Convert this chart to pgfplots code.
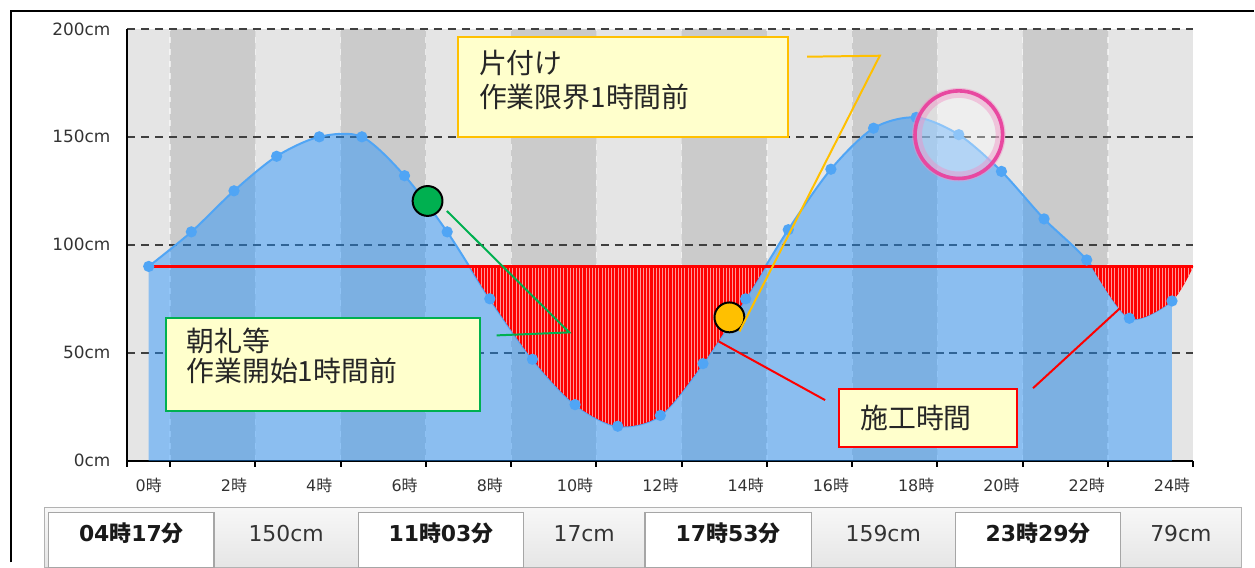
\documentclass[border=0pt]{standalone}
\usepackage{fontspec}
\setmainfont{DejaVu Sans}
\newfontfamily\jp{Noto Sans CJK JP}
\usepackage{pgfplots}
\pgfplotsset{compat=1.18}
\usepackage{pgfplotstable}
\usetikzlibrary{patterns.meta}

\definecolor{bglight}{RGB}{229,229,229}
\definecolor{bgdark}{RGB}{203,203,203}
\definecolor{tideblue}{RGB}{30,144,255}
\definecolor{lineblue}{RGB}{80,165,245}
\definecolor{boxyellow}{RGB}{255,255,204}
\definecolor{xlgreen}{RGB}{0,176,80}
\definecolor{xlorange}{RGB}{255,192,0}
\definecolor{pinkring}{RGB}{232,72,160}
\definecolor{gridgrey}{RGB}{64,64,64}
\definecolor{txtgrey}{RGB}{51,51,51}
\definecolor{hatch}{RGB}{255,150,150}

\pgfplotstableread{
h v
0 90
1 106
2 125
3 141
4 150
5 150
6 132
7 106
8 75
9 47
10 26
11 16
12 21
13 45
14 75
15 107
16 135
17 154
18 159
19 151
20 134
21 112
22 93
23 66
24 74
}\tide

% part of the tide below the 90 cm limit (working time)
\pgfplotstableread{
h v
7.53 90
8 75
9 47
10 26
11 16
12 21
13 45
14 75
14.47 90
}\workA

\pgfplotstableread{
h v
22.11 90
23 66
24 74
24.5 90
}\workB

\tikzset{redzone/.style={draw=none, fill=red, postaction={pattern={Lines[angle=90,distance=1.6pt,line width=0.35pt]}, pattern color=hatch}}}

\begin{document}
\begin{tikzpicture}
\begin{scope}[shift={(-64pt,231.5pt)},x=0.5pt,y=-0.5pt]
\useasboundingbox (0,0) rectangle (1255,560);
\end{scope}
\begin{axis}[
  at={(0,0)}, anchor=south west,
  scale only axis, width=535.5pt, height=217pt,
  xmin=-0.5, xmax=24.5, ymin=0, ymax=200,
  set layers,
  axis lines*=left,
  axis line style={line width=1pt, black},
  axis background/.style={fill=bglight},
  xtick={0,2,4,6,8,10,12,14,16,18,20,22,24},
  xticklabels={0{\jp 時},2{\jp 時},4{\jp 時},6{\jp 時},8{\jp 時},10{\jp 時},12{\jp 時},14{\jp 時},16{\jp 時},18{\jp 時},20{\jp 時},22{\jp 時},24{\jp 時}},
  minor xtick={-0.5,0.5,2.5,4.5,6.5,8.5,10.5,12.5,14.5,16.5,18.5,20.5,22.5,24.5},
  ytick={0,50,100,150,200},
  yticklabels={0cm,50cm,100cm,150cm,200cm},
  tick align=outside,
  major tick length=0pt,
  minor tick length=3pt,
  every tick/.style={black, line width=1pt},
  xminorgrids,
  minor x grid style={white, dashed, line width=0.6pt, opacity=0.6},
  ymajorgrids,
  y grid style={gridgrey, dash pattern=on 4pt off 3pt, line width=0.8pt},
  xticklabel style={font=\fontsize{8}{9}\selectfont, text=txtgrey, yshift=-5pt},
  yticklabel style={font=\fontsize{8.5}{10}\selectfont, text=txtgrey, xshift=-5pt},
]
\addplot[on layer=axis background, ybar interval, fill=bgdark, draw=none]
  coordinates {(0.5,200) (2.5,0) (4.5,200) (6.5,0) (8.5,200) (10.5,0) (12.5,200) (14.5,0) (16.5,200) (18.5,0) (20.5,200) (22.5,0)};

\addplot[draw=none, fill=tideblue, fill opacity=0.45, smooth] table[x=h,y=v]{\tide} \closedcycle;
\addplot[lineblue, line width=1pt, smooth, mark=*, mark size=2.3pt, mark options={fill=lineblue, draw=none}] table[x=h,y=v]{\tide};

\addplot[redzone, smooth] table[x=h,y=v]{\workA} -- cycle;
\addplot[redzone, smooth] table[x=h,y=v]{\workB} -- cycle;
\addplot[red, line width=1.6pt] coordinates {(0,90) (24.5,90)};

\addplot[only marks, mark=*, mark size=7.5pt, mark options={fill=xlgreen, draw=black, line width=1pt}] coordinates {(6.54,120.3)};
\addplot[only marks, mark=*, mark size=7.5pt, mark options={fill=xlorange, draw=black, line width=1pt}] coordinates {(13.62,66.4)};
\addplot[only marks, mark=*, mark size=21pt, mark options={draw=pinkring!60, line width=5pt, draw opacity=0.45, fill=white, fill opacity=0.35}] coordinates {(19.0,151)};
\addplot[only marks, mark=o, mark size=22pt, mark options={draw=pinkring, line width=1.8pt}] coordinates {(19.0,151)};
\end{axis}

\begin{scope}[shift={(-64pt,231.5pt)},x=0.5pt,y=-0.5pt]
\draw[line width=1pt] (11,565) -- (11,11) -- (1260,11);
% callout lines
\draw[xlgreen, line width=1pt] (449,212) -- (572,334) -- (499,337);
\draw[xlorange, line width=1pt] (743,333) -- (884,56) -- (811,57);
\draw[red, line width=1pt] (722,343) -- (829,402);
\draw[red, line width=1pt] (1038,390) -- (1125,310);
% boxes
\draw[xlorange, line width=1pt, fill=boxyellow] (460,37) rectangle (792,138);
\node[anchor=west, inner sep=0, font=\jp\fontsize{14}{17}\selectfont, text=black!85] at (481,63) {片付け};
\node[anchor=west, inner sep=0, font=\jp\fontsize{14}{17}\selectfont, text=black!85] at (481,97) {作業限界1時間前};
\draw[xlgreen, line width=1pt, fill=boxyellow] (167,320) rectangle (482,413);
\node[anchor=west, inner sep=0, font=\jp\fontsize{14}{17}\selectfont, text=black!85] at (187,343) {朝礼等};
\node[anchor=west, inner sep=0, font=\jp\fontsize{14}{17}\selectfont, text=black!85] at (187,373) {作業開始1時間前};
\draw[red, line width=1pt, fill=boxyellow] (843,391) rectangle (1022,449);
\node[anchor=west, inner sep=0, font=\jp\fontsize{14}{17}\selectfont, text=black!85] at (864,420) {施工時間};
% table
\shade[top color=gray!6, bottom color=gray!20, draw=gray!60, line width=0.5pt] (45,510) rectangle (1247,570);
\foreach \a/\b in {49/215, 360/526, 648/815, 960/1126}
  \draw[gray!70, line width=0.6pt, fill=white] (\a,515) rectangle (\b,570);
\node[font=\fontsize{11}{13}\selectfont\bfseries, text=black!90] at (132,536) {04{\jp\bfseries 時}17{\jp\bfseries 分}};
\node[font=\fontsize{11}{13}\selectfont\bfseries, text=black!90] at (443,536) {11{\jp\bfseries 時}03{\jp\bfseries 分}};
\node[font=\fontsize{11}{13}\selectfont\bfseries, text=black!90] at (731.5,536) {17{\jp\bfseries 時}53{\jp\bfseries 分}};
\node[font=\fontsize{11}{13}\selectfont\bfseries, text=black!90] at (1043,536) {23{\jp\bfseries 時}29{\jp\bfseries 分}};
\node[font=\fontsize{11}{13}\selectfont, text=txtgrey] at (287.5,536) {150cm};
\node[font=\fontsize{11}{13}\selectfont, text=txtgrey] at (587,536) {17cm};
\node[font=\fontsize{11}{13}\selectfont, text=txtgrey] at (887.5,536) {159cm};
\node[font=\fontsize{11}{13}\selectfont, text=txtgrey] at (1186.5,536) {79cm};
\end{scope}
\end{tikzpicture}
\end{document}
